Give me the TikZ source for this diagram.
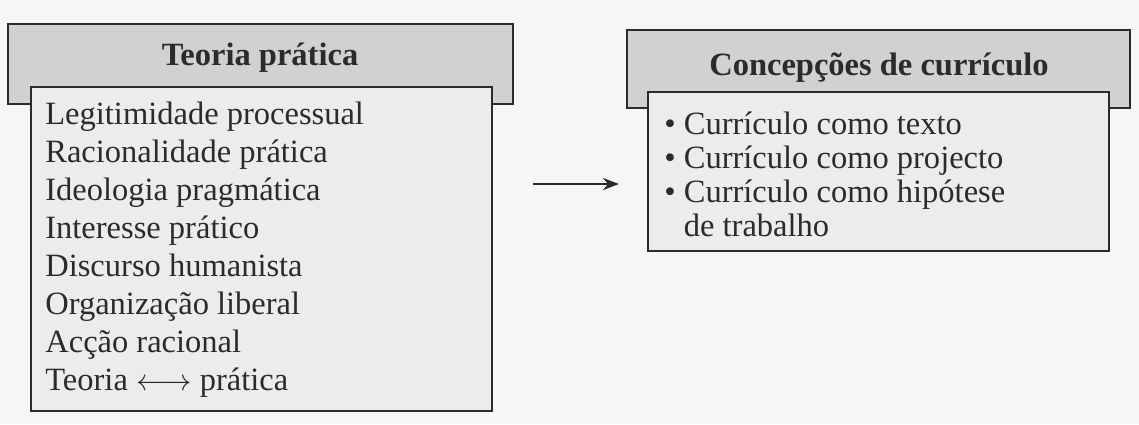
\documentclass[tikz,border=0pt]{standalone}
\usepackage{fontspec}
\setmainfont{Liberation Serif}
\usepackage{tikz}
\usetikzlibrary{arrows.meta}

\definecolor{scanbg}{gray}{0.965}
\definecolor{headgray}{gray}{0.82}
\definecolor{bodygray}{gray}{0.925}
\definecolor{inkgray}{gray}{0.17}

\tikzset{
  headbox/.style={draw=inkgray,fill=headgray,line width=1.6pt},
  bodybox/.style={draw=inkgray,fill=bodygray,line width=1.6pt},
  item/.style={anchor=base west,inner sep=0pt,font=\fontsize{18.5}{22}\selectfont,text=inkgray},
  title/.style={anchor=base,inner sep=0pt,font=\fontsize{18.5}{22}\selectfont\bfseries,text=inkgray},
}

\begin{document}
\begin{tikzpicture}[x=0.02cm,y=-0.02cm]
\useasboundingbox[fill=scanbg] (0,0) rectangle (1139,424);
% left block
\draw[headbox] (8,24) rectangle (513,104);
\draw[bodybox] (31,87) rectangle (492,411);
\node[title] (lt) at (260,65) {Teoria prática};
\node[item] (l1) at (45,124) {Legitimidade processual};
\node[item] (l2) at (45,162) {Racionalidade prática};
\node[item] (l3) at (45,200) {Ideologia pragmática};
\node[item] (l4) at (45,238) {Interesse prático};
\node[item] (l5) at (45,276) {Discurso humanista};
\node[item] (l6) at (45,314) {Organização liberal};
\node[item] (l7) at (45,352) {Acção racional};
\node[item] (l8) at (45,390) {Teoria $\longleftrightarrow$ prática};
% right block
\draw[headbox] (627,30) rectangle (1130,108);
\draw[bodybox] (648,92) rectangle (1109,251);
\node[title] (rt) at (879,75) {Concepções de currículo};
\node[item] (r1) at (664,134) {\textbullet\ Currículo como texto};
\node[item] (r2) at (664,168) {\textbullet\ Currículo como projecto};
\node[item] (r3) at (664,202) {\textbullet\ Currículo como hipótese};
\node[item] (r4) at (664,236) {\phantom{\textbullet\ }de trabalho};
% arrow
\coordinate (arrowtail) at (533,184);
\coordinate (arrowtip) at (619,184);
\draw[line width=1.5pt,inkgray,-{Stealth[length=0.32cm,width=0.24cm]}] (arrowtail) -- (arrowtip);
\end{tikzpicture}
\end{document}
